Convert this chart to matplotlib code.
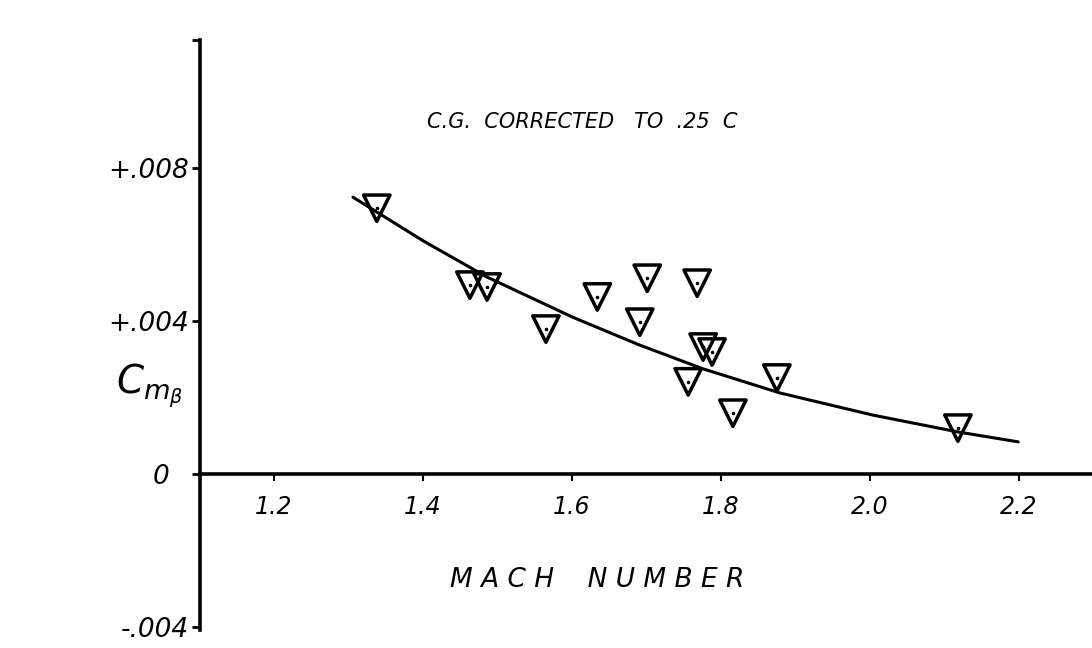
import matplotlib
matplotlib.use("Agg")
import matplotlib.pyplot as plt
from matplotlib.transforms import ScaledTranslation

# wind tunnel points
mach = [1.338, 1.463, 1.486, 1.565, 1.634, 1.701, 1.691, 1.768,
        1.776, 1.788, 1.756, 1.816, 1.875, 2.118]
cn_beta = [0.00695, 0.00494, 0.00489, 0.00379, 0.00463, 0.00512, 0.00397, 0.00499,
           0.00332, 0.00319, 0.00241, 0.00159, 0.00251, 0.00120]

# faired curve, read at a few stations
curve_mach = [1.306, 1.40, 1.486, 1.601, 1.691, 1.776, 1.879, 2.004, 2.118, 2.199]
curve_cn = [0.00724, 0.00610, 0.00515, 0.00410, 0.00337, 0.00275, 0.00212, 0.00154, 0.00110, 0.00084]

x_ticks = [1.2, 1.4, 1.6, 1.8, 2.0, 2.2]
x_tick_labels = ["1.2", "1.4", "1.6", "1.8", "2.0", "2.2"]
y_ticks = [0.008, 0.004, 0.0, -0.004]
y_tick_labels = ["+.008", "+.004", "0", "-.004"]

HAND = {"family": "DejaVu Sans", "style": "italic"}

fig = plt.figure(figsize=(10.92, 6.48), dpi=100)
fig.patch.set_facecolor("white")
ax = fig.add_axes([200 / 1092, 1 - 630 / 648, 892 / 1092, 590 / 648])
ax.set_facecolor("white")

ax.set_xlim(1.1007, 2.298)
ax.set_ylim(-0.00408, 0.01135)

ax.plot(curve_mach, curve_cn, color="black", linewidth=2.2, solid_capstyle="round", zorder=2)
ax.scatter(mach, cn_beta, marker="v", s=19 ** 2, facecolors="none",
           edgecolors="black", linewidths=2.5, zorder=3)
ax.scatter(mach, cn_beta, marker=".", s=10, color="black", zorder=4)

for side in ["top", "right"]:
    ax.spines[side].set_visible(False)
ax.spines["bottom"].set_position(("data", 0))
ax.spines["bottom"].set_linewidth(2.6)
ax.spines["left"].set_linewidth(2.6)

ax.set_xticks(x_ticks)
ax.set_xticklabels(x_tick_labels, fontdict=HAND, fontsize=17)
ax.set_yticks(y_ticks)
ax.set_yticklabels(y_tick_labels, fontdict=HAND, fontsize=19)
ax.tick_params(axis="x", direction="out", length=5, width=1.5, pad=10)
ax.tick_params(axis="y", direction="out", length=6, width=2, pad=2)
ax.set_yticks([ax.get_ylim()[1]], minor=True)
ax.tick_params(axis="y", which="minor", length=6, width=2)

# the zero label sits a bit further out from the axis
for lbl in ax.get_yticklabels():
    if lbl.get_text() == "0":
        lbl.set_transform(lbl.get_transform() + ScaledTranslation(-14 / 72, 0, fig.dpi_scale_trans))

ax.set_xlabel("M A C H    N U M B E R", fontdict=HAND, fontsize=19, va="center")
ax.xaxis.set_label_coords(0.445, 0.085)
ax.set_ylabel(r"$C_{m_\beta}$", fontsize=28, rotation=0, va="center")
ax.yaxis.set_label_coords(-0.056, 0.415)

ax.text(0.2545, 0.861, "C.G.  CORRECTED   TO  .25  C", transform=ax.transAxes,
        ha="left", va="center", fontdict=HAND, fontsize=15)

fig.savefig("out.png", dpi=100, facecolor="white")
